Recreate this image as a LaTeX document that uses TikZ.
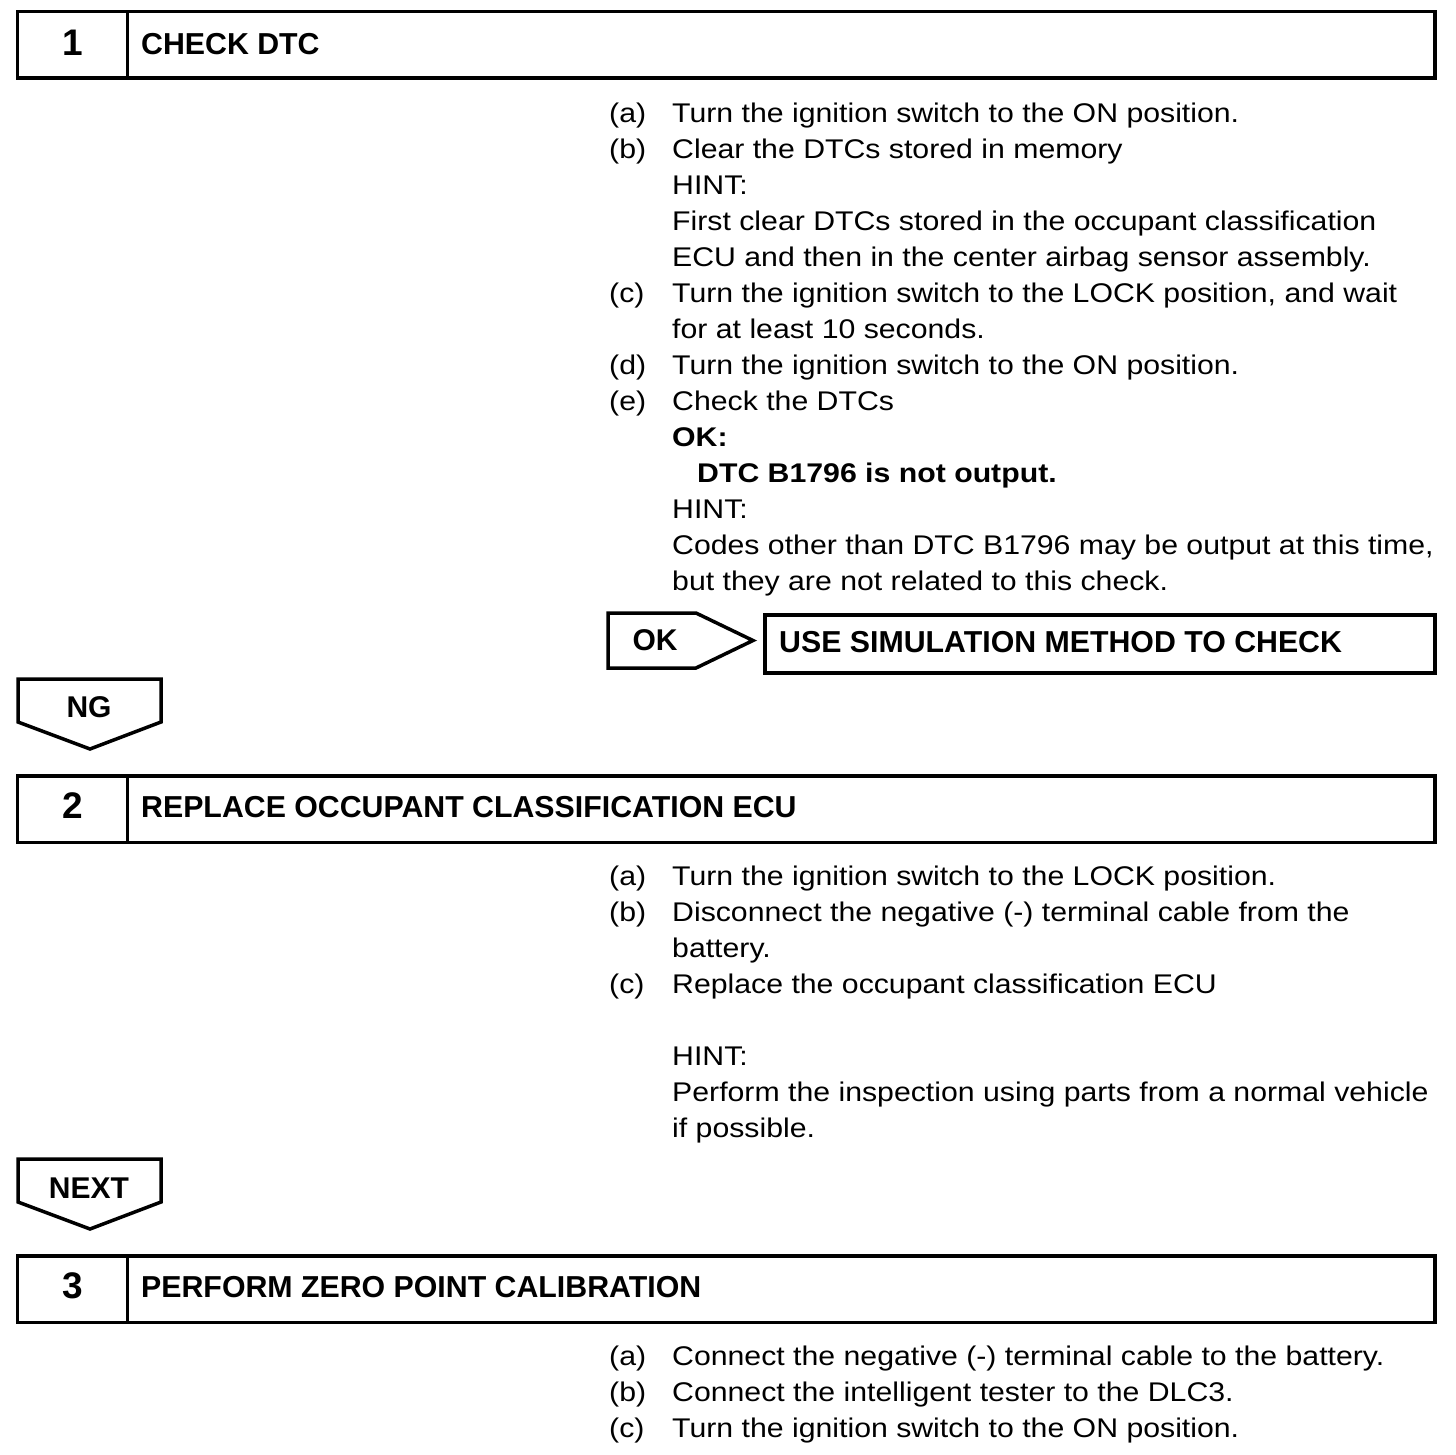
\documentclass[tikz,border=0pt]{standalone}
\usepackage{fontspec}
\setmainfont{Liberation Sans}[FakeStretch=1.12]
\newfontfamily\headfont{Liberation Sans}
\tikzset{
  frame/.style={draw=black, line width=3.5pt, line join=miter},
  cellbox/.style={frame, rectangle, inner sep=0pt, outer sep=0pt, anchor=north west, minimum height=66.5pt},
  body/.style={anchor=base west, inner sep=0pt, font=\fontsize{27}{36}\selectfont},
  bodybold/.style={body, font=\fontsize{27}{36}\selectfont\bfseries},
  head/.style={anchor=base west, inner sep=0pt, font=\headfont\bfseries\fontsize{30.3}{36}\selectfont},
  num/.style={anchor=base, inner sep=0pt, font=\headfont\bfseries\fontsize{37}{40}\selectfont},
  tag/.style={inner sep=0pt, font=\headfont\bfseries\fontsize{30}{36}\selectfont},
}
\begin{document}
\begin{tikzpicture}[x=1pt, y=-1pt]
\useasboundingbox[fill=white] (0,0) rectangle (1456,1454);

% ---------- Step 1 ----------
\node[cellbox, minimum width=110pt] (n1) at (17.5,11.5) {};
\node[cellbox, minimum width=1307.5pt] (c1) at (127.5,11.5) {};
\node[num] (n1t) at (72.5,55) {1};
\node[head] (c1t) at (141,54) {CHECK DTC};

\node[body] (s1a) at (609,122) {(a)};
\node[body] (s1at) at (672,122) {Turn the ignition switch to the ON position.};
\node[body] (s1b) at (609,158) {(b)};
\node[body] (s1bt) at (672,158) {Clear the DTCs stored in memory};
\node[body] (s1h1) at (672,194) {HINT:};
\node[body] (s1h2) at (672,230) {First clear DTCs stored in the occupant classification};
\node[body] (s1h3) at (672,266) {ECU and then in the center airbag sensor assembly.};
\node[body] (s1c) at (609,302) {(c)};
\node[body] (s1ct) at (672,302) {Turn the ignition switch to the LOCK position, and wait};
\node[body] (s1c2) at (672,338) {for at least 10 seconds.};
\node[body] (s1d) at (609,374) {(d)};
\node[body] (s1dt) at (672,374) {Turn the ignition switch to the ON position.};
\node[body] (s1e) at (609,410) {(e)};
\node[body] (s1et) at (672,410) {Check the DTCs};
\node[bodybold] (s1ok) at (672,446) {OK:};
\node[bodybold] (s1okt) at (697,482) {DTC B1796 is not output.};
\node[body] (s1h4) at (672,518) {HINT:};
\node[body] (s1h5) at (672,554) {Codes other than DTC B1796 may be output at this time,};
\node[body] (s1h6) at (672,590) {but they are not related to this check.};

% OK arrow and result box
\draw[frame] (608,613) coordinate (okA) -- (696,613) -- (753,640.5) coordinate (okTip) -- (696,668) -- (608,668) -- cycle;
\node[tag] (okt) at (655,640) {OK};
\node[frame, rectangle, inner sep=0pt, outer sep=0pt, anchor=north west, minimum width=670pt, minimum height=58pt] (res) at (765,615) {};
\node[head] (rest) at (779,652) {USE SIMULATION METHOD TO CHECK};

% NG arrow
\draw[frame] (18,679) -- (161,679) -- (161,722) -- (90,749) coordinate (ngTip) -- (18,722) -- cycle;
\node[tag] (ngt) at (89,707) {NG};

% ---------- Step 2 ----------
\node[cellbox, minimum width=110pt] (n2) at (17.5,776) {};
\node[cellbox, minimum width=1307.5pt] (c2) at (127.5,776) {};
\node[num] (n2t) at (72.5,818) {2};
\node[head] (c2t) at (141,817) {REPLACE OCCUPANT CLASSIFICATION ECU};

\node[body] (s2a) at (609,885) {(a)};
\node[body] (s2at) at (672,885) {Turn the ignition switch to the LOCK position.};
\node[body] (s2b) at (609,921) {(b)};
\node[body] (s2bt) at (672,921) {Disconnect the negative (-) terminal cable from the};
\node[body] (s2b2) at (672,957) {battery.};
\node[body] (s2c) at (609,993) {(c)};
\node[body] (s2ct) at (672,993) {Replace the occupant classification ECU};
\node[body] (s2h1) at (672,1065) {HINT:};
\node[body] (s2h2) at (672,1101) {Perform the inspection using parts from a normal vehicle};
\node[body] (s2h3) at (672,1137) {if possible.};

% NEXT arrow
\draw[frame] (18,1159) -- (161,1159) -- (161,1202) -- (90,1229) coordinate (nextTip) -- (18,1202) -- cycle;
\node[tag] (nextt) at (89,1188) {NEXT};

% ---------- Step 3 ----------
\node[cellbox, minimum width=110pt] (n3) at (17.5,1256) {};
\node[cellbox, minimum width=1307.5pt] (c3) at (127.5,1256) {};
\node[num] (n3t) at (72.5,1298) {3};
\node[head] (c3t) at (141,1297) {PERFORM ZERO POINT CALIBRATION};

\node[body] (s3a) at (609,1365) {(a)};
\node[body] (s3at) at (672,1365) {Connect the negative (-) terminal cable to the battery.};
\node[body] (s3b) at (609,1401) {(b)};
\node[body] (s3bt) at (672,1401) {Connect the intelligent tester to the DLC3.};
\node[body] (s3c) at (609,1437) {(c)};
\node[body] (s3ct) at (672,1437) {Turn the ignition switch to the ON position.};
\end{tikzpicture}
\end{document}
